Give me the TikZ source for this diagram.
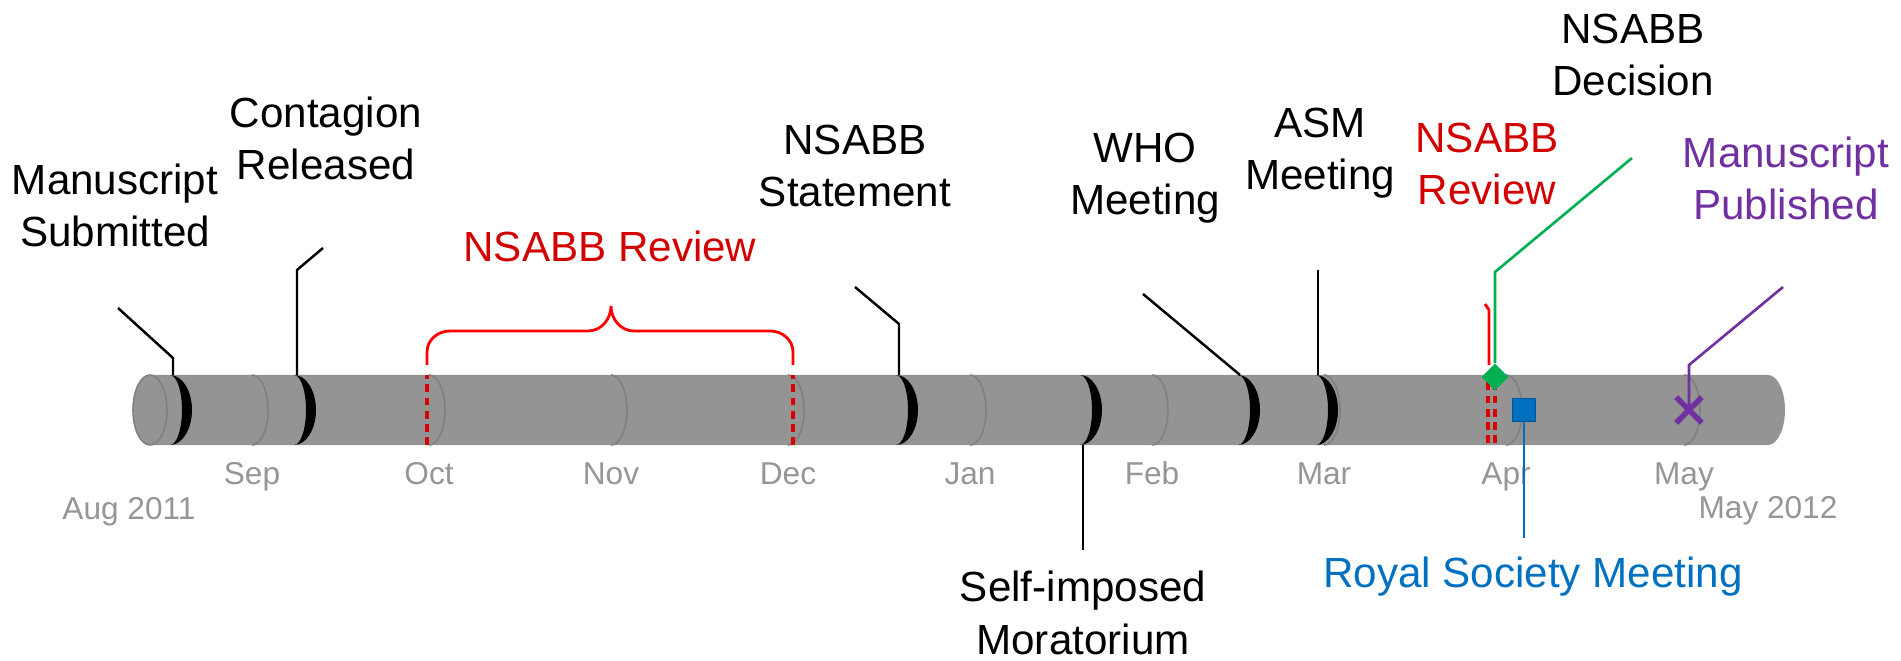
\documentclass[tikz,border=0pt]{standalone}
\usepackage{fontspec}
\setmainfont{Liberation Sans}
\usetikzlibrary{shapes.geometric,shapes.misc}
\colorlet{cylgray}{black!42}
\colorlet{ringgray}{black!50}
\definecolor{monthgray}{RGB}{150,150,150}
\definecolor{revred}{RGB}{210,0,0}
\definecolor{bracered}{RGB}{255,0,0}
\definecolor{decgreen}{RGB}{0,176,80}
\definecolor{royblue}{RGB}{0,112,192}
\definecolor{roydark}{RGB}{0,84,150}
\definecolor{pubpurple}{RGB}{112,48,160}
\tikzset{
  evlabel/.style={align=center,inner sep=0pt,anchor=base,font=\fontsize{24}{30}\selectfont},
  monthlabel/.style={text=monthgray,inner sep=0pt,anchor=base,font=\fontsize{18}{22}\selectfont},
  leader/.style={line width=1.4pt},
  revdash/.style={bracered!85!black,line width=1.8pt,dash pattern=on 4.5pt off 3pt},
  brace/.style={bracered,line width=1.6pt},
  ring/.style={ringgray,line width=0.9pt},
  evarc/.pic={
    \fill (0,35) arc[start angle=90,end angle=-90,x radius=22,y radius=35]
      arc[start angle=-90,end angle=90,x radius=12,y radius=35] -- cycle;
  },
}

\begin{document}
\begin{tikzpicture}[x=0.02cm,y=0.02cm]
  \useasboundingbox (0,0) rectangle (1901,660);
  % the cylinder
  \fill[cylgray] (150,285) -- (1768,285) arc[start angle=90,end angle=-90,x radius=17,y radius=35]
    -- (150,215) arc[start angle=270,end angle=90,x radius=17,y radius=35] -- cycle;
  \draw[ring] (150,250) ellipse[x radius=17,y radius=35];
  % months
  \foreach \m/\mx in {Sep/252,Oct/429,Nov/611,Dec/788,Jan/970,Feb/1152,Mar/1324,Apr/1506,May/1684}{
    \draw[ring] (\mx,285) arc[start angle=90,end angle=-90,x radius=16,y radius=35];
    \node[monthlabel] (m\m) at (\mx,175) {\m};
  }
  \node[monthlabel] (start) at (129,141) {Aug 2011};
  \node[monthlabel] (stop) at (1768,142) {May 2012};

  % first NSABB review
  \draw[revdash] (427,215) -- (427,285);
  \draw[revdash] (793,215) -- (793,285);
  \draw[brace] (427,295) -- (427,308) to[out=90,in=180] (450,329) -- (588,329)
    to[out=0,in=-90] (611,354) to[out=-90,in=180] (634,329) -- (770,329)
    to[out=0,in=90] (793,308) -- (793,295);
  \node[evlabel,text=revred] (rev1) at (610,398) {NSABB Review};

  % events on the bar
  \pic at (170,250) {evarc};
  \pic at (294,250) {evarc};
  \pic at (896,250) {evarc};
  \pic at (1080,250) {evarc};
  \pic at (1238,250) {evarc};
  \pic at (1316,250) {evarc};

  \node[evlabel] (msub) at (115,413) {Manuscript\\Submitted};
  \coordinate (msubtop) at (173,285);
  \coordinate (msubknee) at (173,302);
  \coordinate (msubend) at (118,352);
  \draw[leader] (msubtop) -- (msubknee) -- (msubend);

  \node[evlabel] (cont) at (326,480) {Contagion\\Released};
  \coordinate (conttop) at (297,285);
  \coordinate (contknee) at (297,390);
  \coordinate (contend) at (323,412);
  \draw[leader] (conttop) -- (contknee) -- (contend);

  \node[evlabel] (stmt) at (855,453) {NSABB\\Statement};
  \coordinate (stmttop) at (899,285);
  \coordinate (stmtknee) at (899,336);
  \coordinate (stmtend) at (855,373);
  \draw[leader] (stmttop) -- (stmtknee) -- (stmtend);

  \node[evlabel] (mor) at (1083,6) {Self-imposed\\Moratorium};
  \coordinate (morbot) at (1083,215);
  \coordinate (morend) at (1083,110);
  \draw[leader] (morbot) -- (morend);

  \node[evlabel] (who) at (1145,445) {WHO\\Meeting};
  \coordinate (whotop) at (1240,285);
  \coordinate (whoend) at (1143,366);
  \draw[leader] (whotop) -- (whoend);

  \node[evlabel] (asm) at (1320,470) {ASM\\Meeting};
  \coordinate (asmtop) at (1318,285);
  \coordinate (asmend) at (1318,390);
  \draw[leader] (asmtop) -- (asmend);

  % second NSABB review
  \draw[revdash] (1488,217) -- (1488,280);
  \draw[revdash] (1495,217) -- (1495,280);
  \draw[brace] (1489,295) -- (1489,350) -- (1485,356);
  \node[evlabel,text=revred] (rev2) at (1487,455) {NSABB\\Review};

  % NSABB decision
  \coordinate (decknee) at (1495,388);
  \coordinate (decend) at (1632,502);
  \node[diamond,fill=decgreen,inner sep=0pt,minimum size=0.54cm] (decmark) at (1495,283) {};
  \draw[decgreen,line width=1.5pt] (decmark) -- (decknee) -- (decend);
  \node[evlabel] (dec) at (1633,564) {NSABB\\Decision};

  % Royal Society
  \coordinate (royend) at (1524,122);
  \draw[royblue,line width=1.5pt] (1524,250) -- (royend);
  \node[rectangle,fill=royblue,draw=roydark,line width=1pt,inner sep=0pt,minimum size=0.46cm] (roymark) at (1524,250) {};
  \node[evlabel,text=royblue] (roy) at (1533,73) {Royal Society Meeting};

  % publication
  \coordinate (pubknee) at (1689,295);
  \coordinate (pubend) at (1783,373);
  \node[cross out,draw=pubpurple,line width=3.2pt,inner sep=0pt,minimum size=0.4cm] (pubmark) at (1689,250) {};
  \draw[pubpurple,line width=1.5pt] (pubmark.center) -- (pubknee) -- (pubend);
  \node[evlabel,text=pubpurple] (pub) at (1786,440) {Manuscript\\Published};
\end{tikzpicture}
\end{document}
